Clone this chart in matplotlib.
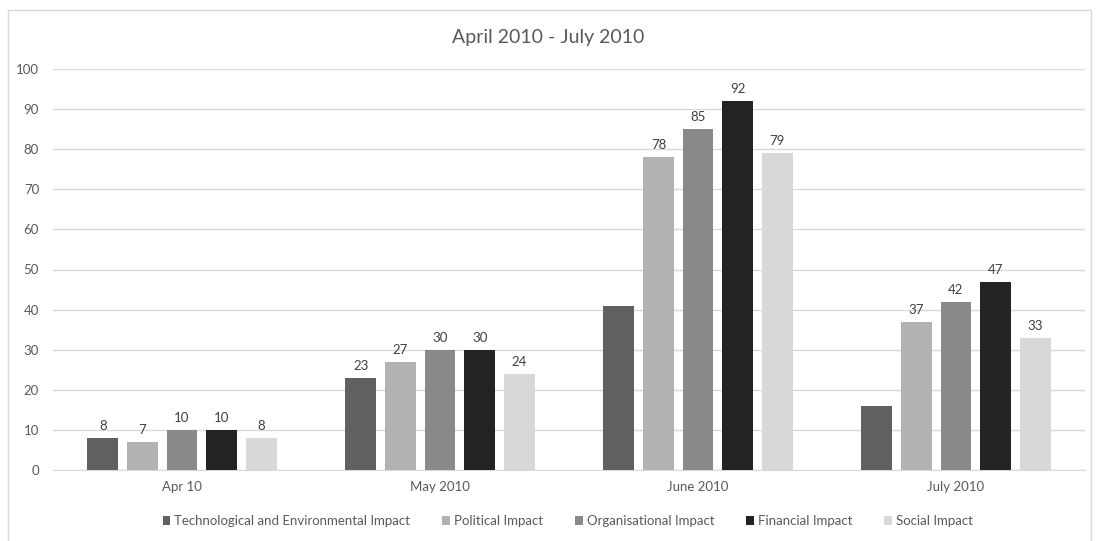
import matplotlib.pyplot as plt
import matplotlib.patches as mpatches
import numpy as np

plt.rcParams['font.family'] = ['Lato', 'DejaVu Sans']

months = ['Apr 10', 'May 2010', 'June 2010', 'July 2010']
series_names = ['Technological and Environmental Impact', 'Political Impact',
                'Organisational Impact', 'Financial Impact', 'Social Impact']
tech = [8, 23, 41, 16]
political = [7, 27, 78, 37]
organisational = [10, 30, 85, 42]
financial = [10, 30, 92, 47]
social = [8, 24, 79, 33]
# which bars carry a value label (tech bars in June/July have none)
tech_labelled = [True, True, False, False]

colors = ['#606060', '#b2b2b2', '#898989', '#232323', '#d8d8d8']
values = [tech, political, organisational, financial, social]

fig = plt.figure(figsize=(10.96, 5.41), dpi=100)
ax = fig.add_axes([53 / 1096, 1 - 470 / 541, 1032 / 1096, 401 / 541])

# outer chart frame
fig.patches.append(mpatches.Rectangle((8 / 1096, -0.02), 1083 / 1096, 1 - 10 / 541 + 0.02,
                                      transform=fig.transFigure, fill=False,
                                      edgecolor='#d9d9d9', linewidth=1))

x = np.arange(len(months))
width = 0.12
step = 0.1535
for i, (name, vals, c) in enumerate(zip(series_names, values, colors)):
    pos = x + (i - 2) * step
    bars = ax.bar(pos, vals, width, color=c, label=name, zorder=3)
    for j, (b, v) in enumerate(zip(bars, vals)):
        if i == 0 and not tech_labelled[j]:
            continue
        ax.text(b.get_x() + b.get_width() / 2, v + 1.5, str(v), ha='center', va='bottom',
                fontsize=9.5, color='#404040')

ax.set_xlim(-0.5, 3.5)
ax.set_ylim(0, 100)
ax.set_yticks(range(0, 101, 10))
ax.set_xticks(x)
ax.set_xticklabels(months)
ax.grid(axis='y', color='#d9d9d9', linewidth=1, zorder=0)
for s in ['top', 'right', 'left']:
    ax.spines[s].set_visible(False)
ax.spines['bottom'].set_color('#d9d9d9')
ax.tick_params(axis='both', length=0, labelsize=9.5, labelcolor='#595959')
ax.tick_params(axis='y', pad=10)
ax.tick_params(axis='x', pad=8)

fig.text(0.5, 1 - 38 / 541, 'April 2010 - July 2010', ha='center', va='center',
         fontsize=14, color='#595959')

handles, labels = ax.get_legend_handles_labels()
fig.legend(handles, labels, loc='center', bbox_to_anchor=(0.518, 1 - 521 / 541), ncol=5,
           frameon=False, fontsize=9.5, labelcolor='#595959', handlelength=0.6,
           handleheight=0.6, handletextpad=0.3, columnspacing=2.4)

fig.savefig('out.png', dpi=100)
